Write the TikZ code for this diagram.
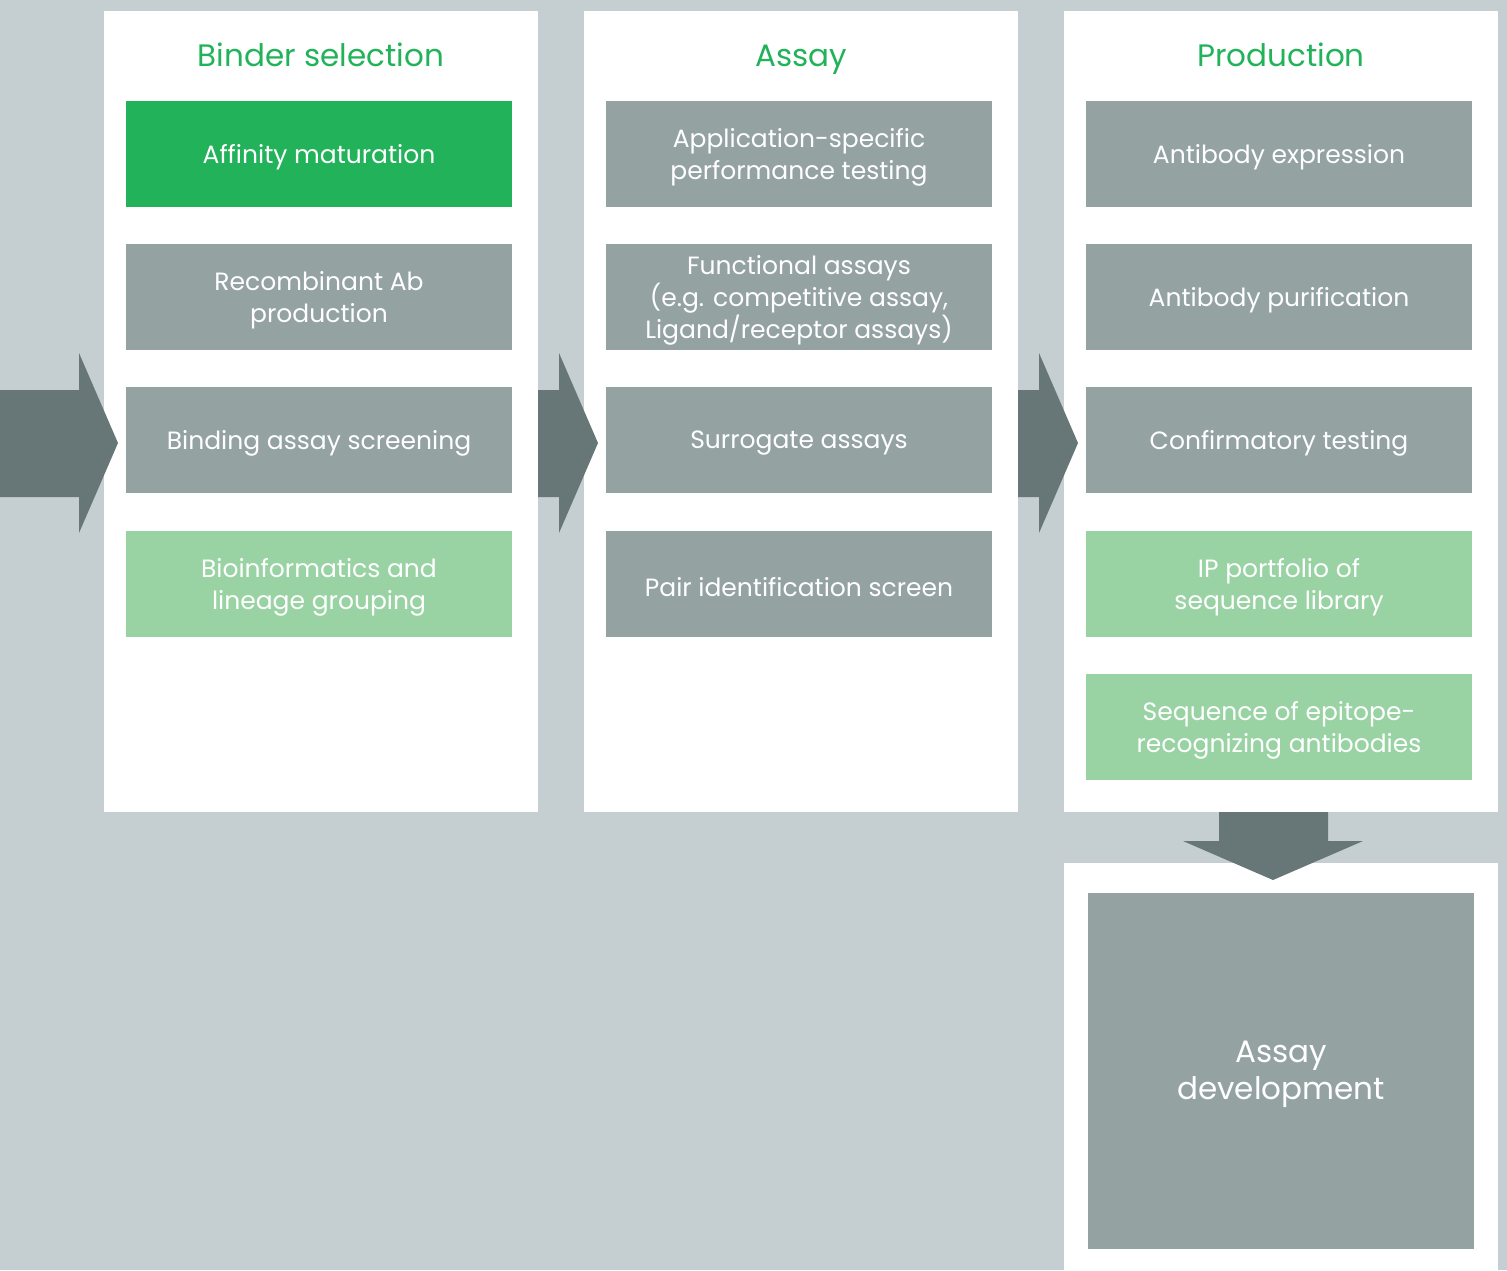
\documentclass[tikz,border=0pt]{standalone}
\usepackage{fontspec}
\setmainfont{Poppins}
\definecolor{bgc}{HTML}{C5CED0}
\definecolor{arrc}{HTML}{677676}
\definecolor{boxg}{HTML}{94A2A2}
\definecolor{grn}{HTML}{22B35A}
\definecolor{lgrn}{HTML}{99D3A4}
\begin{document}
\begin{tikzpicture}[x=1pt,y=-1pt,
  panel/.style={fill=white},
  box/.style={draw=none,minimum width=386pt,minimum height=106pt,inner sep=0pt},
  graybox/.style={box,fill=boxg},
  greenbox/.style={box,fill=grn},
  lightbox/.style={box,fill=lgrn},
  boxtext/.style={text=white,align=center,inner sep=0pt,font=\fontsize{25}{32}\selectfont},
  title/.style={text=grn,font=\fontsize{31}{34}\selectfont,text height=22pt,text depth=7pt,inner sep=0pt},
  bigarrow/.style={fill=arrc}]
\useasboundingbox (0,0) rectangle (1507,1270);
\fill[bgc] (0,0) rectangle (1507,1270);
% panels
\fill[panel] (104,11) rectangle (538,812);
\fill[panel] (584,11) rectangle (1018,812);
\fill[panel] (1064,11) rectangle (1498,812);
\fill[panel] (1064,863) rectangle (1498,1270);
% titles
\node[title] (t1) at (321,59) {Binder selection};
\node[title] (t2) at (801,59) {Assay};
\node[title] (t3) at (1281,59) {Production};
% column 1
\node[greenbox] (a1) at (319,154) {};
\node[boxtext] (a1t) at ([yshift=-3pt]a1.center) {Affinity maturation};
\node[graybox] (a2) at (319,297) {};
\node[boxtext] (a2t) at ([yshift=-3pt]a2.center) {Recombinant Ab\\production};
\node[graybox] (a3) at (319,440) {};
\node[boxtext] (a3t) at ([yshift=-3pt]a3.center) {Binding assay screening};
\node[lightbox] (a4) at (319,584) {};
\node[boxtext] (a4t) at ([yshift=-3pt]a4.center) {Bioinformatics and\\lineage grouping};
% column 2
\node[graybox] (b1) at (799,154) {};
\node[boxtext] (b1t) at ([yshift=-3pt]b1.center) {Application-specific\\performance testing};
\node[graybox] (b2) at (799,297) {};
\node[boxtext] (b2t) at ([yshift=-3pt]b2.center) {Functional assays\\(e.g. competitive assay,\\Ligand/receptor assays)};
\node[graybox] (b3) at (799,440) {};
\node[boxtext] (b3t) at ([yshift=-3pt]b3.center) {Surrogate assays};
\node[graybox] (b4) at (799,584) {};
\node[boxtext] (b4t) at ([yshift=-3pt]b4.center) {Pair identification screen};
% column 3
\node[graybox] (c1) at (1279,154) {};
\node[boxtext] (c1t) at ([yshift=-3pt]c1.center) {Antibody expression};
\node[graybox] (c2) at (1279,297) {};
\node[boxtext] (c2t) at ([yshift=-3pt]c2.center) {Antibody purification};
\node[graybox] (c3) at (1279,440) {};
\node[boxtext] (c3t) at ([yshift=-3pt]c3.center) {Confirmatory testing};
\node[lightbox] (c4) at (1279,584) {};
\node[boxtext] (c4t) at ([yshift=-3pt]c4.center) {IP portfolio of\\sequence library};
\node[lightbox] (c5) at (1279,727) {};
\node[boxtext] (c5t) at ([yshift=-3pt]c5.center) {Sequence of epitope-\\recognizing antibodies};
% assay development
\node[box,fill=boxg,minimum width=386pt,minimum height=356pt] (d1) at (1281,1071) {};
\node[boxtext,font=\fontsize{31}{37}\selectfont] (d1t) at ([yshift=-3pt]d1.center) {Assay\\development};
% arrows
\fill[bigarrow] (0,390) -- (79,390) -- (79,353) -- (118,443) -- (79,533) -- (79,497) -- (0,497) -- cycle;
\fill[bigarrow] (538,390) -- (559,390) -- (559,353) -- (598,443) -- (559,533) -- (559,497) -- (538,497) -- cycle;
\fill[bigarrow] (1018,390) -- (1039,390) -- (1039,353) -- (1078,443) -- (1039,533) -- (1039,497) -- (1018,497) -- cycle;
\fill[bigarrow] (1219,812) -- (1328,812) -- (1328,841) -- (1363,841) -- (1273,880) -- (1183,841) -- (1219,841) -- cycle;
\end{tikzpicture}
\end{document}
